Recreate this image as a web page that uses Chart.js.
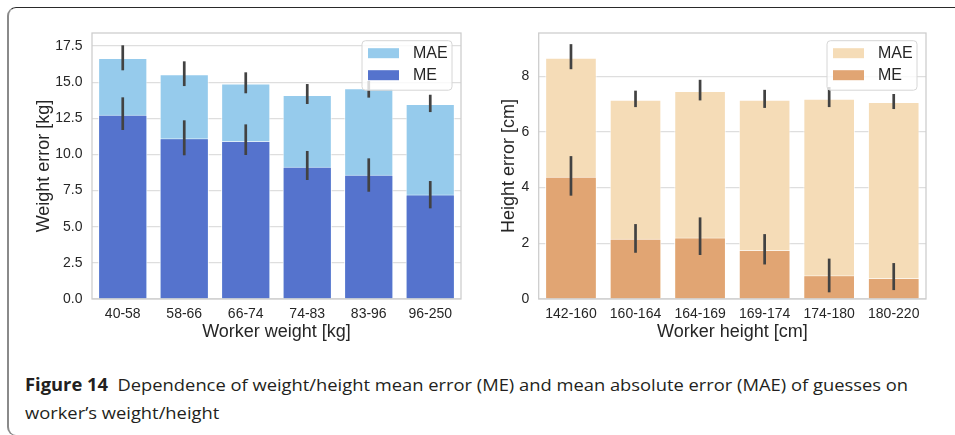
<!DOCTYPE html>
<html>
<head>
<meta charset="utf-8">
<script src="https://cdn.jsdelivr.net/npm/chart.js@4/dist/chart.umd.min.js"></script>
<style>
  html, body { margin: 0; padding: 0; background: #fff; width: 955px; height: 435px; overflow: hidden; }
  #frame { position: absolute; left: 7px; top: 7px; width: 1000px; height: 427px;
    border-top: 1.5px solid #2a2a2a; border-left: 2px solid #8a8a8a; border-bottom: 1.5px solid #8a8a8a;
    border-top-left-radius: 9px; border-bottom-left-radius: 9px; }
  canvas { position: absolute; top: 0; }
  #c1 { left: 0; }
  #c2 { left: 480px; }
  .cap { position: absolute; left: 25px; white-space: nowrap; font-family: "Open Sans", sans-serif;
    font-size: 17px; line-height: 20px; color: #231f20; transform-origin: 0 0; }
  .cap b { font-weight: 700; }
</style>
</head>
<body>
<div id="frame"></div>
<canvas id="c1" width="478" height="345"></canvas>
<canvas id="c2" width="475" height="345"></canvas>
<div class="cap" id="cap1" style="top:375px"><b>Figure 14</b>&nbsp;&nbsp;Dependence of weight/height mean error (ME) and mean absolute error (MAE) of guesses on</div>
<div class="cap" id="cap2" style="top:403px">worker’s weight/height</div>
<script>
// ---------- data ----------
const weightCats = ['40-58', '58-66', '66-74', '74-83', '83-96', '96-250'];
const weightMAE   = [16.67, 15.54, 14.90, 14.11, 14.57, 13.49];
const weightMAElo = [15.82, 14.73, 14.23, 13.49, 13.93, 12.93];
const weightMAEhi = [17.55, 16.44, 15.68, 14.87, 15.08, 14.13];
const weightME    = [12.75, 11.12, 10.93, 9.15, 8.60, 7.22];
const weightMElo  = [11.69, 9.94, 9.96, 8.23, 7.42, 6.27];
const weightMEhi  = [13.95, 12.36, 12.08, 10.24, 9.73, 8.16];

const heightCats = ['142-160', '160-164', '164-169', '169-174', '174-180', '180-220'];
const heightMAE   = [8.66, 7.15, 7.47, 7.15, 7.19, 7.07];
const heightMAElo = [8.25, 6.89, 7.13, 6.86, 6.89, 6.82];
const heightMAEhi = [9.15, 7.48, 7.87, 7.51, 7.61, 7.36];
const heightME    = [4.39, 2.16, 2.21, 1.76, 0.85, 0.75];
const heightMElo  = [3.71, 1.66, 1.58, 1.24, 0.24, 0.32];
const heightMEhi  = [5.13, 2.69, 2.93, 2.33, 1.45, 1.29];

const weightTicks = [0, 2.5, 5, 7.5, 10, 12.5, 15, 17.5];
const heightTicks = [0, 2, 4, 6, 8];

// ---------- plugins ----------
const errorBars = {
  id: 'errorBars',
  afterDatasetsDraw(chart) {
    const ctx = chart.ctx, y = chart.scales.y;
    ctx.save();
    ctx.strokeStyle = '#424242';
    ctx.lineWidth = 2.7;
    ctx.lineCap = 'butt';
    chart.data.datasets.forEach((ds, di) => {
      const meta = chart.getDatasetMeta(di);
      meta.data.forEach((bar, i) => {
        ctx.beginPath();
        ctx.moveTo(bar.x, y.getPixelForValue(ds.errLo[i]));
        ctx.lineTo(bar.x, y.getPixelForValue(ds.errHi[i]));
        ctx.stroke();
      });
    });
    ctx.restore();
  }
};

function roundRect(ctx, x, y, w, h, r) {
  ctx.beginPath();
  ctx.moveTo(x + r, y);
  ctx.lineTo(x + w - r, y); ctx.quadraticCurveTo(x + w, y, x + w, y + r);
  ctx.lineTo(x + w, y + h - r); ctx.quadraticCurveTo(x + w, y + h, x + w - r, y + h);
  ctx.lineTo(x + r, y + h); ctx.quadraticCurveTo(x, y + h, x, y + h - r);
  ctx.lineTo(x, y + r); ctx.quadraticCurveTo(x, y, x + r, y);
  ctx.closePath();
}

const frameAndLegend = {
  id: 'frameAndLegend',
  afterDraw(chart) {
    const ctx = chart.ctx, a = chart.chartArea;
    ctx.save();
    // spines
    ctx.strokeStyle = '#cccccc';
    ctx.lineWidth = 1.25;
    ctx.strokeRect(a.left, a.top, a.right - a.left, a.bottom - a.top);
    // legend
    const bw = 90, bh = 49.5;
    const bx = a.right - 9 - bw, by = a.top + 7.7;
    roundRect(ctx, bx, by, bw, bh, 3.5);
    ctx.fillStyle = 'rgba(255,255,255,0.8)';
    ctx.fill();
    ctx.strokeStyle = '#d6d6d6';
    ctx.lineWidth = 1;
    ctx.stroke();
    const items = chart.data.datasets.slice().sort((p, q) => q.order - p.order);
    items.forEach((ds, k) => {
      const cy = by + 12.5 + k * 22;
      ctx.fillStyle = ds.backgroundColor;
      ctx.fillRect(bx + 6, cy - 5, 31, 10);
      ctx.fillStyle = '#262626';
      ctx.font = '16px "Liberation Sans", Arial, sans-serif';
      ctx.textBaseline = 'middle';
      ctx.textAlign = 'left';
      ctx.fillText(ds.label, bx + 51, cy + 0.5);
    });
    ctx.restore();
  }
};

function makeChart(id, cats, mae, maeLo, maeHi, me, meLo, meHi, colors, yTitle, xTitle, yMax, tickVals, dec, pad, yWidth) {
  const font = '"Liberation Sans", Arial, sans-serif';
  return new Chart(document.getElementById(id), {
    type: 'bar',
    data: {
      labels: cats,
      datasets: [
        { label: 'MAE', data: mae, errLo: maeLo, errHi: maeHi, order: 2,
          backgroundColor: colors[0], borderColor: 'rgba(255,255,255,0.65)', borderWidth: 1 },
        { label: 'ME', data: me, errLo: meLo, errHi: meHi, order: 1,
          backgroundColor: colors[1], borderColor: 'rgba(255,255,255,0.65)', borderWidth: 1 }
      ]
    },
    options: {
      responsive: false,
      animation: false,
      devicePixelRatio: 1,
      layout: { padding: pad },
      plugins: { legend: { display: false }, tooltip: { enabled: false } },
      datasets: { bar: { grouped: false, categoryPercentage: 1, barPercentage: 0.8 } },
      scales: {
        x: {
          grid: { display: false, drawTicks: false },
          border: { display: false },
          ticks: { color: '#262626', font: { family: font, size: 14 }, padding: 7, maxRotation: 0 },
          title: { display: true, text: xTitle, color: '#262626', font: { family: font, size: 18, lineHeight: 1.2 }, padding: 0 },
          afterFit(s) { s.height = 44; }
        },
        y: {
          min: 0, max: yMax,
          afterBuildTicks(s) { s.ticks = tickVals.map(v => ({ value: v })); },
          grid: { color: '#dedede', lineWidth: 1.25, drawTicks: false },
          border: { display: false },
          ticks: { color: '#262626', font: { family: font, size: 14 }, padding: 9.5,
            callback: v => Number(v).toFixed(dec) },
          title: { display: true, text: yTitle, color: '#262626', font: { family: font, size: 18, lineHeight: 1.2 }, padding: 0 },
          afterFit(s) { s.width = yWidth; }
        }
      }
    },
    plugins: [errorBars, frameAndLegend]
  });
}

makeChart('c1', weightCats, weightMAE, weightMAElo, weightMAEhi, weightME, weightMElo, weightMEhi,
  ['#96cbec', '#5573cd'], 'Weight error [kg]', 'Worker weight [kg]', 18.4, weightTicks, 1,
  { left: 33, top: 33, right: 17, bottom: 2 }, 59);
makeChart('c2', heightCats, heightMAE, heightMAElo, heightMAEhi, heightME, heightMElo, heightMEhi,
  ['#f5dcb7', '#e1a573'], 'Height error [cm]', 'Worker height [cm]', 9.55, heightTicks, 0,
  { left: 18, top: 33, right: 29, bottom: 2 }, 40.7);

// fit caption width to the reference line length
const c1 = document.getElementById('cap1'), c2 = document.getElementById('cap2');
const w = c1.getBoundingClientRect().width;
const sx = 883 / w;
c1.style.transform = 'scaleX(' + sx + ')';
c2.style.transform = 'scaleX(' + sx + ')';
</script>
</body>
</html>
